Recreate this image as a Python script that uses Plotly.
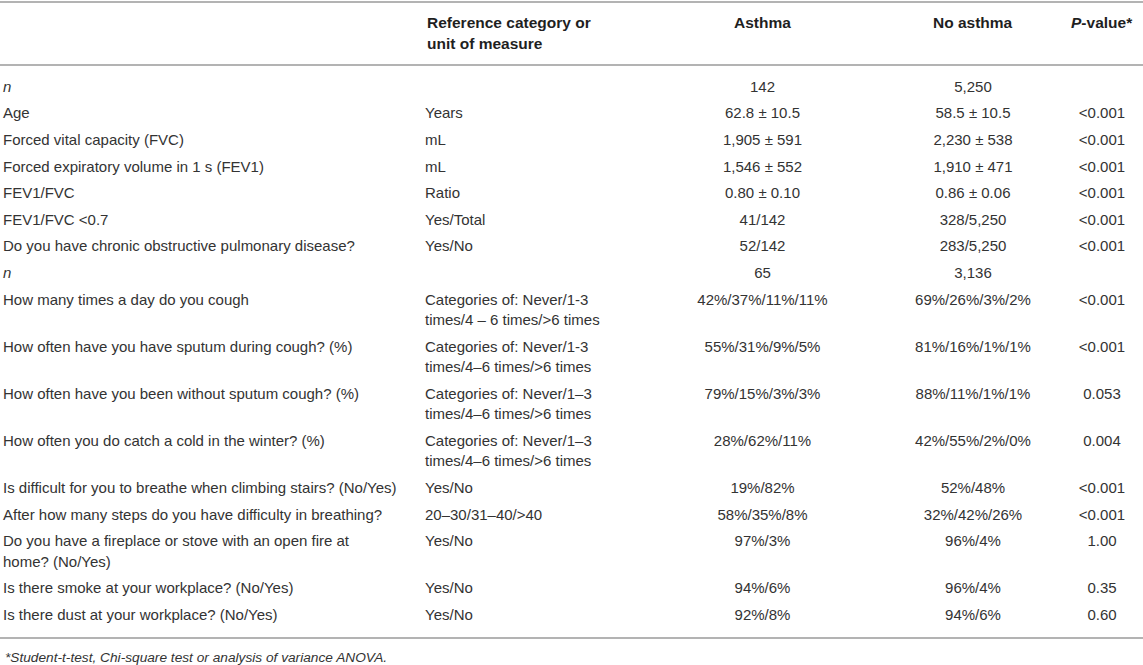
import plotly.graph_objects as go

# table contents, one list per column (\n = line break inside a cell)
variables = [
    "n",
    "Age",
    "Forced vital capacity (FVC)",
    "Forced expiratory volume in 1 s (FEV1)",
    "FEV1/FVC",
    "FEV1/FVC <0.7",
    "Do you have chronic obstructive pulmonary disease?",
    "n",
    "How many times a day do you cough",
    "How often have you have sputum during cough? (%)",
    "How often have you been without sputum cough? (%)",
    "How often you do catch a cold in the winter? (%)",
    "Is difficult for you to breathe when climbing stairs? (No/Yes)",
    "After how many steps do you have difficulty in breathing?",
    "Do you have a fireplace or stove with an open fire at\nhome? (No/Yes)",
    "Is there smoke at your workplace? (No/Yes)",
    "Is there dust at your workplace? (No/Yes)",
]
units = [
    "",
    "Years",
    "mL",
    "mL",
    "Ratio",
    "Yes/Total",
    "Yes/No",
    "",
    "Categories of: Never/1-3\ntimes/4 \u2013 6 times/>6 times",
    "Categories of: Never/1-3\ntimes/4\u20136 times/>6 times",
    "Categories of: Never/1\u20133\ntimes/4\u20136 times/>6 times",
    "Categories of: Never/1\u20133\ntimes/4\u20136 times/>6 times",
    "Yes/No",
    "20\u201330/31\u201340/>40",
    "Yes/No",
    "Yes/No",
    "Yes/No",
]
asthma = [
    "142", "62.8 \u00b1 10.5", "1,905 \u00b1 591", "1,546 \u00b1 552", "0.80 \u00b1 0.10",
    "41/142", "52/142", "65", "42%/37%/11%/11%", "55%/31%/9%/5%",
    "79%/15%/3%/3%", "28%/62%/11%", "19%/82%", "58%/35%/8%", "97%/3%",
    "94%/6%", "92%/8%",
]
no_asthma = [
    "5,250", "58.5 \u00b1 10.5", "2,230 \u00b1 538", "1,910 \u00b1 471", "0.86 \u00b1 0.06",
    "328/5,250", "283/5,250", "3,136", "69%/26%/3%/2%", "81%/16%/1%/1%",
    "88%/11%/1%/1%", "42%/55%/2%/0%", "52%/48%", "32%/42%/26%", "96%/4%",
    "96%/4%", "94%/6%",
]
p_values = [
    "", "<0.001", "<0.001", "<0.001", "<0.001", "<0.001", "<0.001", "",
    "<0.001", "<0.001", "0.053", "0.004", "<0.001", "<0.001", "1.00",
    "0.35", "0.60",
]
headers = ["", "Reference category or\nunit of measure", "Asthma", "No asthma", "<i>P</i>-value*"]
footnote = "*Student-t-test, Chi-square test or analysis of variance ANOVA."

# layout (pixels, the axes map 1:1 to the page)
W, H = 1143, 665
FONT = "Liberation Sans, Arial, Helvetica, sans-serif"
TXT = "#333333"
RULE = "#b3b3b3"
col_x = [3, 425, 762.5, 973, 1102]
col_pos = ["middle right", "middle right", "middle center", "middle center", "middle center"]
first_y = 88
row_h = 26.6
line_gap = 20.5


def esc(s):
    return s.replace("<", "&lt;").replace(">", "&gt;")


columns = [variables, units, asthma, no_asthma, p_values]

# y of the first line of each row
row_y = []
y = first_y
for i in range(len(variables)):
    row_y.append(y)
    nl = max(len(c[i].split("\n")) for c in columns)
    y += row_h + (nl - 1) * line_gap

fig = go.Figure()
for ci, col in enumerate(columns):
    xs, ys, ts = [], [], []
    for ri, cell in enumerate(col):
        for li, part in enumerate(cell.split("\n")):
            if not part:
                continue
            t = esc(part)
            if ci == 0 and part == "n":
                t = "<i>n</i>"
            xs.append(col_x[ci])
            ys.append(row_y[ri] + li * line_gap)
            ts.append(t)
    fig.add_trace(go.Scatter(
        x=xs, y=ys, text=ts, mode="text", textposition=col_pos[ci],
        textfont=dict(family=FONT, size=15, color=TXT),
        hoverinfo="skip", showlegend=False, cliponaxis=False,
    ))

# header
for ci, h in enumerate(headers):
    for li, part in enumerate(h.split("\n")):
        if not part:
            continue
        fig.add_annotation(
            x=col_x[ci], y=22 + li * 21, xref="x", yref="y",
            text="<b>" + part + "</b>", showarrow=False,
            xanchor="left" if col_pos[ci] == "middle right" else "center",
            yanchor="middle",
            font=dict(family=FONT, size=15.5, color="#1f1f1f"),
        )

fig.add_annotation(
    x=3, y=657, xref="x", yref="y", text="<i>" + footnote + "</i>",
    showarrow=False, xanchor="left", yanchor="middle",
    font=dict(family=FONT, size=13.7, color=TXT),
)

for yy in [2, 65, 638]:
    fig.add_shape(type="line", x0=0, x1=W, y0=yy, y1=yy, xref="x", yref="y",
                  line=dict(color=RULE, width=2))

fig.update_layout(
    width=W, height=H, margin=dict(l=0, r=0, t=0, b=0),
    plot_bgcolor="white", paper_bgcolor="white",
    xaxis=dict(range=[0, W], visible=False, fixedrange=True),
    yaxis=dict(range=[H, 0], visible=False, fixedrange=True),
)

fig.write_html("out.html", config={"displayModeBar": False},
               post_script="document.body.style.margin='0';")
